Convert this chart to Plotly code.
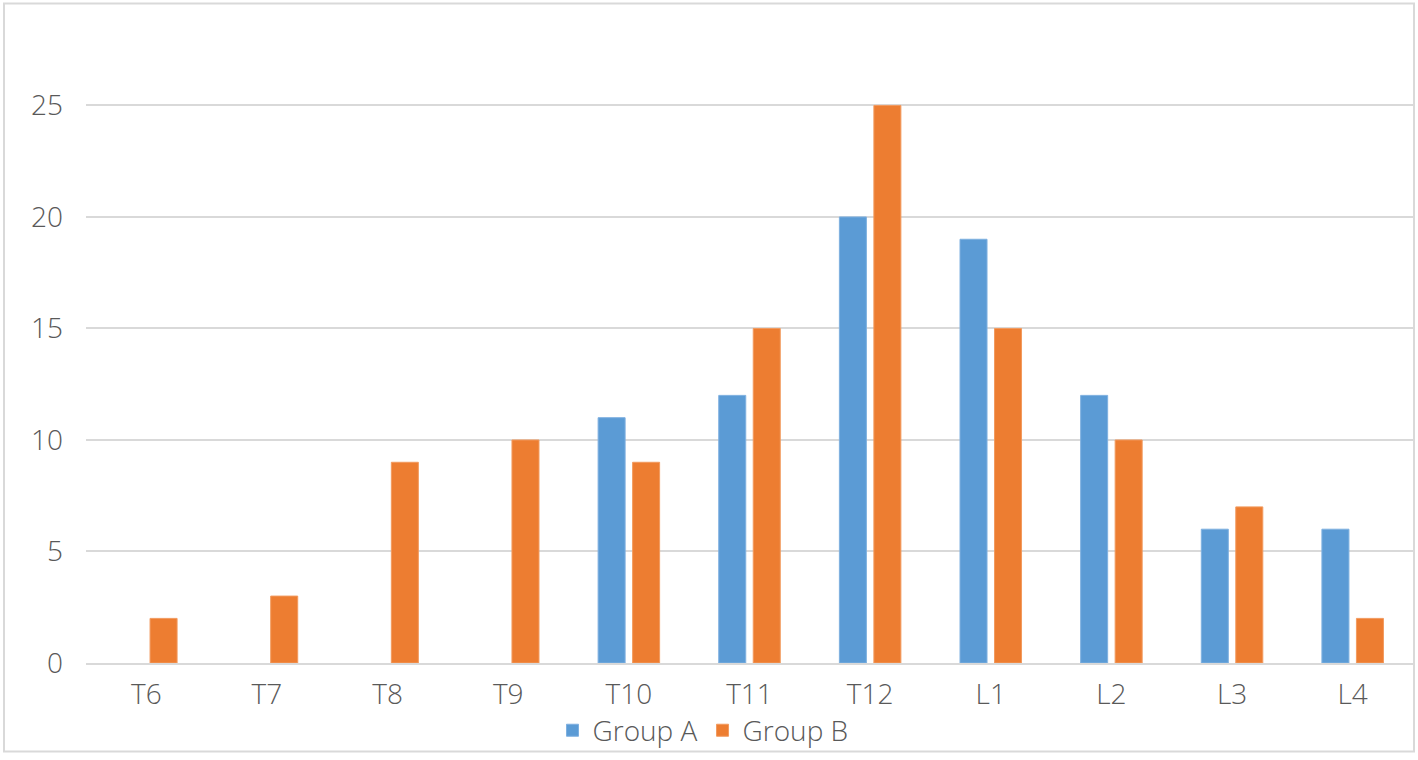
import plotly.graph_objects as go

categories = ["T6", "T7", "T8", "T9", "T10", "T11", "T12", "L1", "L2", "L3", "L4"]
group_a = [0, 0, 0, 0, 11, 12, 20, 19, 12, 6, 6]
group_b = [2, 3, 9, 10, 9, 15, 25, 15, 10, 7, 2]
y_ticks = [0, 5, 10, 15, 20, 25]

font_family = "Open Sans, Noto Sans, DejaVu Sans, sans-serif"
text_color = "#595959"
grid_color = "#D9D9D9"

fig = go.Figure()
fig.add_trace(go.Bar(x=categories, y=[v if v else None for v in group_a], name="Group A",
                     marker=dict(color="#5B9BD5", line=dict(color="#7EB0E0", width=1))))
fig.add_trace(go.Bar(x=categories, y=[v if v else None for v in group_b], name="Group B",
                     marker=dict(color="#ED7D31", line=dict(color="#F29A5E", width=1))))

W, H = 1418, 760
ml, mr, mt, mb = 86, 5, 72, 93
pw = W - ml - mr
ph = H - mt - mb

def px_x(p):
    return (p - ml) / pw

def px_y(p):
    return (H - mb - p) / ph

tf = dict(size=28, color=text_color, family=font_family, weight=300)

fig.update_layout(
    width=W, height=H,
    margin=dict(l=ml, r=mr, t=mt, b=mb),
    paper_bgcolor="white", plot_bgcolor="white",
    barmode="group", bargap=0.428, bargroupgap=0.217,
    font=dict(family=font_family, color=text_color, size=28, weight=300),
    showlegend=True,
    legend=dict(orientation="h", x=px_x(703), xanchor="center", y=px_y(735), yanchor="middle",
                font=tf, itemwidth=30, traceorder="normal", bgcolor="rgba(0,0,0,0)"),
    xaxis=dict(showgrid=False, showline=True, linecolor=grid_color, linewidth=2,
               ticks="", ticklabelstandoff=5, tickfont=tf),
    yaxis=dict(range=[0, 26.5], tickvals=y_ticks, showgrid=True, gridcolor=grid_color,
               gridwidth=2, zeroline=False, showline=False, ticks="",
               ticklabelstandoff=22, tickfont=tf),
    shapes=[dict(type="rect", xref="paper", yref="paper",
                 x0=px_x(4), x1=px_x(1414), y0=px_y(756), y1=px_y(3),
                 line=dict(color=grid_color, width=2), fillcolor="rgba(0,0,0,0)", layer="below")],
)

fig.write_html("out.html", config={"displayModeBar": False},
               post_script="document.body.style.margin='0';document.body.style.overflow='hidden';")
